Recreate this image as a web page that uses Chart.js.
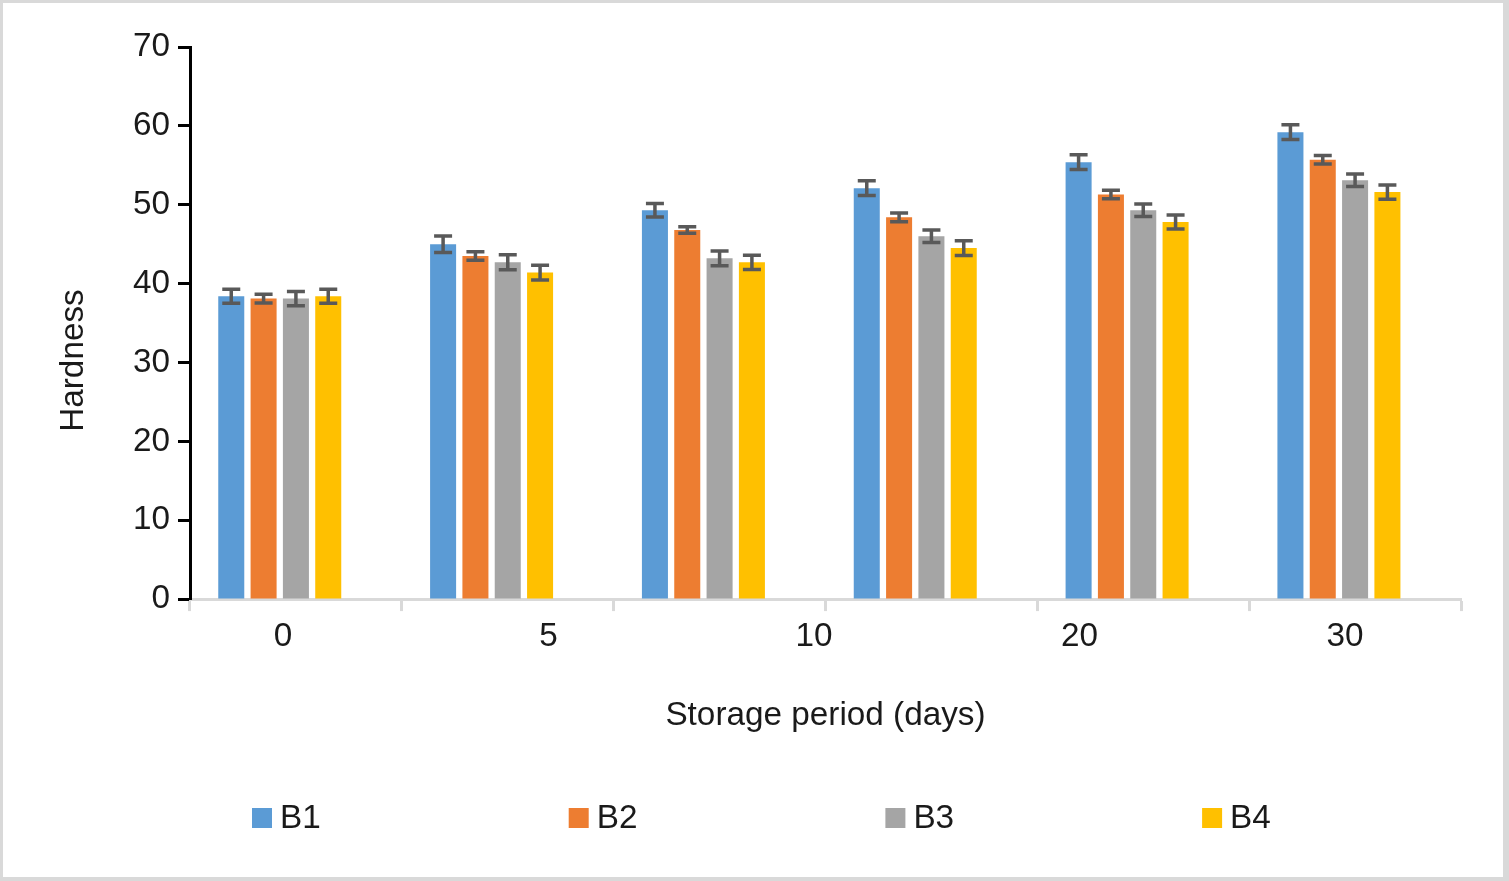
<!DOCTYPE html>
<html>
<head>
<meta charset="utf-8">
<script src="https://cdn.jsdelivr.net/npm/chart.js@4.4.1/dist/chart.umd.min.js"></script>
<style>
  html, body { margin: 0; padding: 0; background: #d9d9d9; overflow: hidden; }
  #wrap { position: absolute; left: 3px; top: 3px; width: 1500px; height: 874px; background: #ffffff; }
</style>
</head>
<body>
<div id="wrap"><canvas id="chart"></canvas></div>
<script>
// ---- Data ----
const categories = ['G1', 'G2', 'G3', 'G4', 'G5', 'G6'];
const tickLabels = ['0', '5', '10', '20', '30'];
const seriesNames = ['B1', 'B2', 'B3', 'B4'];
const B1 = [38.4, 45.0, 49.3, 52.1, 55.4, 59.2];
const B2 = [38.1, 43.5, 46.8, 48.4, 51.3, 55.7];
const B3 = [38.1, 42.7, 43.2, 46.0, 49.3, 53.1];
const B4 = [38.4, 41.4, 42.7, 44.5, 47.8, 51.6];
const B1_err = [0.90, 1.05, 0.87, 0.93, 0.93, 0.93];
const B2_err = [0.55, 0.55, 0.42, 0.55, 0.55, 0.55];
const B3_err = [0.90, 0.95, 0.93, 0.80, 0.80, 0.80];
const B4_err = [0.90, 0.93, 0.91, 0.93, 0.89, 0.89];
const spacer = [null, null, null, null, null, null];
const yTicks = { min: 0, max: 70, step: 10 };
const yTitle = 'Hardness';
const xTitle = 'Storage period (days)';

// ---- Style ----
const FONT = '"Liberation Sans", Arial, sans-serif';
const FS = 33.3;
const TXT = '#1a1a1a';
const colors = ['#5B9BD5', '#ED7D31', '#A5A5A5', '#FFC000'];

const errorBars = {
  id: 'errorBars',
  afterDatasetsDraw(chart) {
    const ctx = chart.ctx, ys = chart.scales.y;
    chart.data.datasets.forEach((ds, i) => {
      if (!ds.errors) return;
      const meta = chart.getDatasetMeta(i);
      meta.data.forEach((bar, j) => {
        const v = ds.data[j], e = ds.errors[j];
        if (v == null) return;
        const t = ys.getPixelForValue(v + e), b = ys.getPixelForValue(v - e);
        ctx.save();
        ctx.strokeStyle = '#595959';
        ctx.lineWidth = 3.5;
        ctx.beginPath();
        ctx.moveTo(bar.x, t); ctx.lineTo(bar.x, b);
        ctx.moveTo(bar.x - 9, t); ctx.lineTo(bar.x + 9, t);
        ctx.moveTo(bar.x - 9, b); ctx.lineTo(bar.x + 9, b);
        ctx.stroke();
        ctx.restore();
      });
    });
  }
};

const extras = {
  id: 'extras',
  afterDraw(chart) {
    const ctx = chart.ctx, ca = chart.chartArea;
    ctx.save();
    ctx.font = FS + 'px ' + FONT;
    ctx.fillStyle = TXT;
    // y axis title
    ctx.save();
    ctx.translate(ca.left - 116, (ca.top + ca.bottom) / 2 + 37.5);
    ctx.rotate(-Math.PI / 2);
    ctx.textAlign = 'center';
    ctx.textBaseline = 'middle';
    ctx.fillText(yTitle, 0, 0);
    ctx.restore();
    // legend
    const items = chart.data.datasets.filter(d => !d.spacer);
    const x0 = 249, step = 316.7, yc = 815;
    ctx.textAlign = 'left';
    ctx.textBaseline = 'middle';
    items.forEach((ds, i) => {
      const x = x0 + i * step;
      ctx.fillStyle = ds.backgroundColor;
      ctx.fillRect(x, yc - 10, 20, 20);
      ctx.fillStyle = TXT;
      ctx.fillText(ds.label, x + 28, yc + 1);
    });
    ctx.restore();
  }
};

const seriesData = [B1, B2, B3, B4];
const seriesErr = [B1_err, B2_err, B3_err, B4_err];
const datasets = seriesNames.map((n, i) => ({
  label: n, data: seriesData[i], errors: seriesErr[i],
  backgroundColor: colors[i], borderWidth: 0
}));
datasets.push({ label: '', data: spacer, spacer: true, backgroundColor: 'rgba(0,0,0,0)' });

new Chart(document.getElementById('chart'), {
  type: 'bar',
  data: { labels: categories, datasets },
  options: {
    responsive: true,
    maintainAspectRatio: false,
    animation: false,
    datasets: { bar: { categoryPercentage: 0.763, barPercentage: 0.805 } },
    layout: { padding: { top: 44, left: 10, right: 42, bottom: 141 } },
    plugins: { legend: { display: false }, tooltip: { enabled: false } },
    scales: {
      x: {
        type: 'category',
        position: 'bottom',
        weight: 0,
        ticks: { display: false },
        grid: { drawOnChartArea: false, drawTicks: true, tickLength: 12, tickColor: '#d9d9d9', tickWidth: 3, offset: true },
        border: { color: '#d9d9d9', width: 3 }
      },
      x2: {
        type: 'linear',
        position: 'bottom',
        weight: 1,
        offset: false,
        min: -0.3503,
        max: 4.4369,
        afterBuildTicks(s) { s.ticks = tickLabels.map((_, i) => ({ value: i })); },
        ticks: {
          callback: (v) => tickLabels[v],
          color: TXT, font: { family: FONT, size: FS }, padding: 6,
          autoSkip: false, maxRotation: 0
        },
        grid: { display: false, drawTicks: false, offset: false },
        border: { display: false },
        title: { display: true, text: xTitle, color: TXT, font: { family: FONT, size: FS }, padding: { top: 33, bottom: 0 } }
      },
      y: {
        min: yTicks.min,
        max: yTicks.max,
        ticks: { stepSize: yTicks.step, color: TXT, font: { family: FONT, size: FS }, padding: 8 },
        grid: { drawOnChartArea: false, drawTicks: true, tickLength: 12, tickColor: '#000000', tickWidth: 3 },
        border: { color: '#000000', width: 3 },
        afterFit(s) { s.width = 177; }
      }
    }
  },
  plugins: [errorBars, extras]
});
</script>
</body>
</html>
